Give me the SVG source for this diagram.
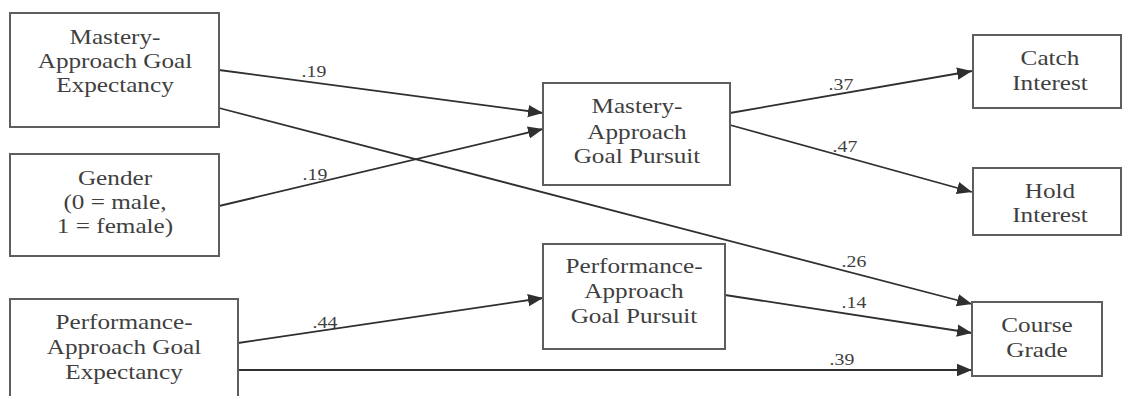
<svg xmlns="http://www.w3.org/2000/svg" width="1123" height="396" viewBox="0 0 1123 396">
  <style>
    .box { fill: #ffffff; stroke: #5e5e5e; stroke-width: 2; }
    text { font-family: 'Liberation Serif', 'Times New Roman', 'DejaVu Serif', serif; fill: #3f3f3f; text-anchor: middle; }
    .lbl { font-size: 21px; }
    .coef { font-size: 16.5px; }
    .path { stroke: #2f2f2f; stroke-width: 1.8; fill: none; marker-end: url(#arrow); }
  </style>
  <defs>
    <marker id="arrow" markerUnits="userSpaceOnUse" markerWidth="16" markerHeight="14" refX="15" refY="7" orient="auto">
      <path d="M0,0.8 L15,7 L0,13.2 z" fill="#2f2f2f"/>
    </marker>
  </defs>
  <rect width="1123" height="396" fill="#ffffff"/>

  <!-- paths between variables, with their coefficients -->
  <g id="connectors">
    <line class="path" x1="219" y1="70" x2="543" y2="113"/>
    <line class="path" x1="219" y1="206" x2="543" y2="129"/>
    <line class="path" x1="219" y1="108" x2="972" y2="304"/>
    <line class="path" x1="730" y1="113" x2="972" y2="71"/>
    <line class="path" x1="730" y1="125" x2="972" y2="192"/>
    <line class="path" x1="238" y1="343" x2="543" y2="298"/>
    <line class="path" x1="725" y1="295" x2="972" y2="333"/>
    <line class="path" x1="238" y1="370" x2="972" y2="370"/>
    <text class="coef" transform="translate(314,77) scale(1.2,1)">.19</text>
    <text class="coef" transform="translate(315,180) scale(1.2,1)">.19</text>
    <text class="coef" transform="translate(841,90) scale(1.2,1)">.37</text>
    <text class="coef" transform="translate(845,152) scale(1.2,1)">.47</text>
    <text class="coef" transform="translate(854,267) scale(1.2,1)">.26</text>
    <text class="coef" transform="translate(854,308) scale(1.2,1)">.14</text>
    <text class="coef" transform="translate(325,328) scale(1.2,1)">.44</text>
    <text class="coef" transform="translate(842,365) scale(1.2,1)">.39</text>
  </g>

  <g id="mastery-expectancy">
    <rect class="box" x="10" y="13" width="209" height="114"/>
    <text class="lbl" transform="translate(115,44) scale(1.2,1)">Mastery-</text>
    <text class="lbl" transform="translate(115,68) scale(1.2,1)">Approach Goal</text>
    <text class="lbl" transform="translate(115,92) scale(1.2,1)">Expectancy</text>
  </g>

  <g id="gender">
    <rect class="box" x="10" y="154" width="209" height="102"/>
    <text class="lbl" transform="translate(115,185) scale(1.2,1)">Gender</text>
    <text class="lbl" transform="translate(115,209) scale(1.2,1)">(0 = male,</text>
    <text class="lbl" transform="translate(115,233) scale(1.2,1)">1 = female)</text>
  </g>

  <g id="performance-expectancy">
    <rect class="box" x="10" y="299" width="228" height="110"/>
    <text class="lbl" transform="translate(124,329) scale(1.2,1)">Performance-</text>
    <text class="lbl" transform="translate(124,354) scale(1.2,1)">Approach Goal</text>
    <text class="lbl" transform="translate(124,379) scale(1.2,1)">Expectancy</text>
  </g>

  <g id="mastery-pursuit">
    <rect class="box" x="543" y="83" width="187" height="102"/>
    <text class="lbl" transform="translate(637,113) scale(1.2,1)">Mastery-</text>
    <text class="lbl" transform="translate(637,139) scale(1.2,1)">Approach</text>
    <text class="lbl" transform="translate(637,163) scale(1.2,1)">Goal Pursuit</text>
  </g>

  <g id="performance-pursuit">
    <rect class="box" x="543" y="244" width="182" height="105"/>
    <text class="lbl" transform="translate(634,273) scale(1.2,1)">Performance-</text>
    <text class="lbl" transform="translate(634,298) scale(1.2,1)">Approach</text>
    <text class="lbl" transform="translate(634,323) scale(1.2,1)">Goal Pursuit</text>
  </g>

  <g id="catch-interest">
    <rect class="box" x="973" y="35" width="148" height="73"/>
    <text class="lbl" transform="translate(1050,65) scale(1.2,1)">Catch</text>
    <text class="lbl" transform="translate(1050,90) scale(1.2,1)">Interest</text>
  </g>

  <g id="hold-interest">
    <rect class="box" x="973" y="168" width="148" height="67"/>
    <text class="lbl" transform="translate(1050,198) scale(1.2,1)">Hold</text>
    <text class="lbl" transform="translate(1050,222) scale(1.2,1)">Interest</text>
  </g>

  <g id="course-grade">
    <rect class="box" x="972" y="302" width="130" height="74"/>
    <text class="lbl" transform="translate(1037,332) scale(1.2,1)">Course</text>
    <text class="lbl" transform="translate(1037,357) scale(1.2,1)">Grade</text>
  </g>
</svg>
